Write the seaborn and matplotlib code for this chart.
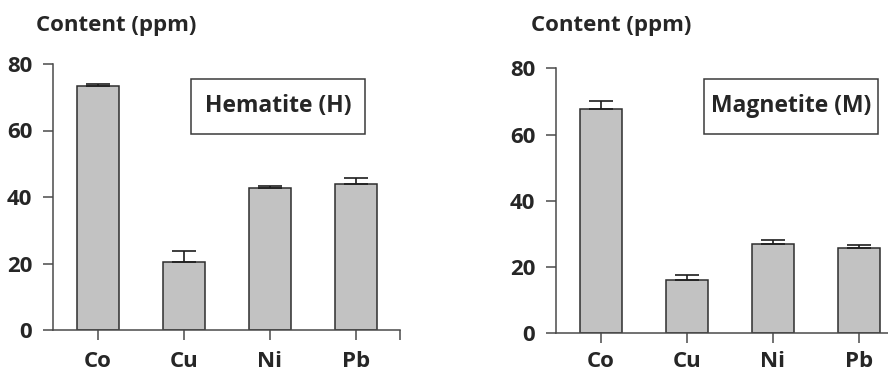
import matplotlib
matplotlib.use("Agg")
import matplotlib.pyplot as plt
import seaborn as sns
import pandas as pd

# Trace-metal content of the two iron oxides (mean and upper error)
elements = ["Co", "Cu", "Ni", "Pb"]
hematite_ppm = [73.3, 20.6, 42.6, 44.0]
hematite_err = [0.8, 3.2, 0.8, 1.7]
magnetite_ppm = [67.6, 16.0, 27.0, 25.8]
magnetite_err = [2.6, 1.5, 1.1, 0.9]
y_ticks = [0, 20, 40, 60, 80]

sns.set_theme(style="ticks")
plt.rcParams["font.family"] = ["Open Sans", "DejaVu Sans"]
plt.rcParams["font.weight"] = "bold"

fig = plt.figure(figsize=(8.88, 3.73), dpi=100)

panels = [
    dict(vals=hematite_ppm, errs=hematite_err, label="Hematite (H)",
         rect=[53 / 888, 1 - 330 / 373, 347 / 888, 266 / 373],
         box=(191, 78.7, 365, 133.7), title_x=36, xpad=8),
    dict(vals=magnetite_ppm, errs=magnetite_err, label="Magnetite (M)",
         rect=[556 / 888, 1 - 333.3 / 373, 347 / 888, 265 / 373],
         box=(704.3, 78.7, 878, 133.7), title_x=531, xpad=5.5),
]

spine_col = "#4a4a4a"
for p in panels:
    ax = fig.add_axes(p["rect"])
    df = pd.DataFrame({"element": elements, "ppm": p["vals"]})
    sns.barplot(data=df, x="element", y="ppm", color="#c2c2c2",
                saturation=1, edgecolor="#2e2e2e", linewidth=1.1,
                width=0.49, errorbar=None, ax=ax)
    ax.errorbar(range(len(elements)), p["vals"],
                yerr=[[0] * len(elements), p["errs"]], fmt="none",
                ecolor="#1e1e1e", elinewidth=1.2, capsize=8.5, capthick=1.2,
                zorder=1)
    ax.set_xlim(-0.52, 3.51)
    ax.set_ylim(0, 80)
    ax.set_yticks(y_ticks)
    ax.set_xlabel("")
    ax.set_ylabel("")
    ax.set_xticks([3.51], minor=True)
    sns.despine(ax=ax)
    for s in ("left", "bottom"):
        ax.spines[s].set_color(spine_col)
        ax.spines[s].set_linewidth(1.1)
    ax.tick_params(axis="both", which="both", length=7, width=1.1,
                   color=spine_col, labelsize=16)
    ax.tick_params(axis="x", pad=p["xpad"])
    ax.tick_params(axis="y", pad=8)
    for t in ax.get_xticklabels() + ax.get_yticklabels():
        t.set_fontweight("bold")

    # Mineral name in a framed box
    x0, y0, x1, y1 = p["box"]
    fig.patches.append(plt.Rectangle((x0 / 888, 1 - y1 / 373),
                                     (x1 - x0) / 888, (y1 - y0) / 373,
                                     transform=fig.transFigure,
                                     facecolor="white", edgecolor="#3a3a3a",
                                     linewidth=1.1, zorder=5))
    fig.text((x0 + x1) / 2 / 888, 1 - (y0 + y1) / 2 / 373, p["label"],
             ha="center", va="center", fontsize=16.5, fontweight="bold",
             zorder=6)

    fig.text(p["title_x"] / 888, 1 - 25 / 373, "Content (ppm)",
             ha="left", va="center", fontsize=16, fontweight="bold")

fig.savefig("out.png", dpi=100)
